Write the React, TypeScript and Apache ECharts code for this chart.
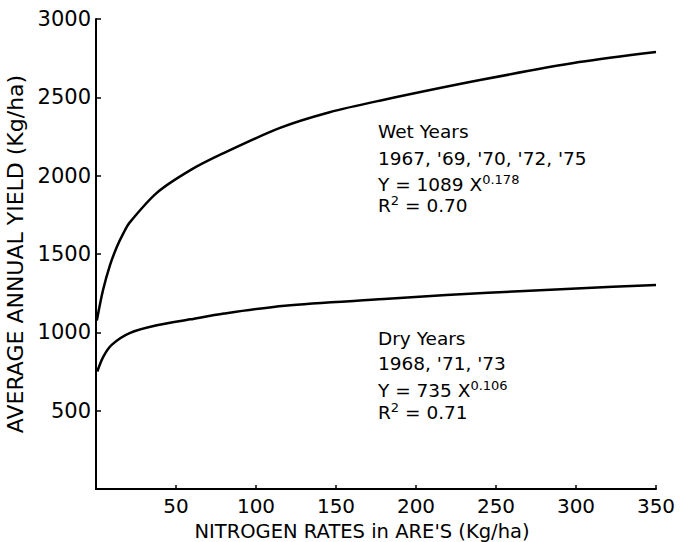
import React, { useEffect, useRef } from "react";
import * as echarts from "echarts";

const xTicks = [0, 50, 100, 150, 200, 250, 300, 350];
const yTicks = [0, 500, 1000, 1500, 2000, 2500, 3000];

const wetX = [0.5, 4.4, 8.8, 13, 17, 21, 38, 59, 79, 115, 146, 178, 240, 302, 350];
const wetY = [1075, 1270, 1430, 1545, 1630, 1700, 1890, 2035, 2140, 2305, 2405, 2480, 2610, 2725, 2790];

const dryX = [0.8, 4.6, 9.8, 21, 38, 59, 80, 118, 180, 219, 271, 323, 350];
const dryY = [750, 845, 920, 995, 1045, 1083, 1120, 1170, 1212, 1238, 1266, 1291, 1302];

const xTitle = "NITROGEN RATES in ARE'S (Kg/ha)";
const yTitle = "AVERAGE ANNUAL YIELD (Kg/ha)";

const wetText = ["Wet Years", "1967, '69, '70, '72, '75", "1089", "0.178", "0.70"];
const dryText = ["Dry Years", "1968, '71, '73", "735", "0.106", "0.71"];

const FONT = "'DejaVu Sans', Verdana, sans-serif";

function annotation(lines: string[], x: number, ys: number[]) {
  const rich = {
    n: { fontSize: 18.5, fontFamily: FONT, color: "#000", lineHeight: 22 },
    s: { fontSize: 13, fontFamily: FONT, color: "#000", verticalAlign: "top", lineHeight: 22, padding: [0, 0, 10, 0] },
  };
  const base = { fontSize: 18.5, fontFamily: FONT, fill: "#000", verticalAlign: "middle", align: "left" };
  return [
    { type: "text", x, y: ys[0], style: { ...base, text: lines[0] } },
    { type: "text", x, y: ys[1], style: { ...base, text: lines[1] } },
    {
      type: "text", x, y: ys[2],
      style: { ...base, text: `{n|Y = ${lines[2]} X}{s|${lines[3]}}`, rich },
    },
    {
      type: "text", x, y: ys[3],
      style: { ...base, text: `{n|R}{s|2}{n| = ${lines[4]}}`, rich },
    },
  ];
}

export default function App() {
  const ref = useRef<HTMLDivElement>(null);
  useEffect(() => {
    document.body.style.margin = "0";
    const chart = echarts.init(ref.current!, null, { renderer: "svg" });
    const axisLabel = {
      color: "#000",
      fontSize: 21,
      fontFamily: FONT,
    };
    chart.setOption({
      animation: false,
      backgroundColor: "#fff",
      grid: { left: 96, right: 31, top: 19, bottom: 53, outerBoundsMode: "none", containLabel: false },
      xAxis: {
        type: "value",
        min: xTicks[0],
        max: xTicks[xTicks.length - 1],
        interval: 50,
        axisLine: { lineStyle: { color: "#000", width: 2 } },
        axisTick: { inside: true, length: 4, lineStyle: { color: "#000", width: 1.5 } },
        splitLine: { show: false },
        axisLabel: {
          ...axisLabel,
          fontSize: 20,
          margin: 7,
          formatter: (v: number) => (v === 0 ? "" : String(v)),
        },
      },
      yAxis: {
        type: "value",
        min: yTicks[0],
        max: yTicks[yTicks.length - 1],
        interval: 500,
        name: yTitle,
        nameLocation: "middle",
        nameGap: 66,
        nameTextStyle: { color: "#000", fontSize: 22, fontFamily: FONT },
        axisLine: { lineStyle: { color: "#000", width: 2 } },
        axisTick: { inside: true, length: 5, lineStyle: { color: "#000", width: 1.5 } },
        splitLine: { show: false },
        axisLabel: {
          ...axisLabel,
          margin: 5,
          formatter: (v: number) => (v === 0 ? "" : String(v)),
        },
      },
      series: [
        {
          name: "Wet Years",
          type: "line",
          data: wetX.map((x, i) => [x, wetY[i]]),
          smooth: 0.3,
          showSymbol: false,
          lineStyle: { color: "#000", width: 2.5 },
          clip: false,
        },
        {
          name: "Dry Years",
          type: "line",
          data: dryX.map((x, i) => [x, dryY[i]]),
          smooth: 0.3,
          showSymbol: false,
          lineStyle: { color: "#000", width: 2.5 },
          clip: false,
        },
      ],
      graphic: [
        {
          type: "text",
          x: 362,
          y: 531,
          style: {
            text: xTitle,
            fontSize: 19.5,
            fontFamily: FONT,
            fill: "#000",
            align: "center",
            verticalAlign: "middle",
          },
        },
        ...annotation(wetText, 378, [131, 158, 184, 205]),
        ...annotation(dryText, 378, [338, 363, 390, 412]),
      ],
    });
    return () => chart.dispose();
  }, []);
  return <div ref={ref} style={{ width: 687, height: 542 }} />;
}
